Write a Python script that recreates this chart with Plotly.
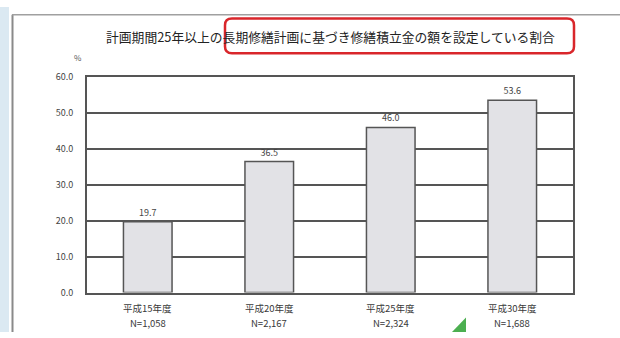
import plotly.graph_objects as go

# Survey results: share of condominiums setting reserve fund from long-term plan (25y+)
years = ["平成15年度", "平成20年度", "平成25年度", "平成30年度"]
sample_sizes = ["N=1,058", "N=2,167", "N=2,324", "N=1,688"]
shares = [19.7, 36.5, 46.0, 53.6]
y_ticks = [0, 10, 20, 30, 40, 50, 60]

W, H = 620, 338
FONT = "Noto Sans CJK JP"


def px_x(x):
    return x / W


def px_y(y):
    return 1 - y / H


fig = go.Figure(
    go.Bar(
        x=years,
        y=shares,
        width=0.4,
        marker=dict(color="#e2e2e6", line=dict(color="#555555", width=1.5)),
        text=[f"{v:.1f}" for v in shares],
        textposition="outside",
        textfont=dict(size=9, color="#444444", family=FONT),
        cliponaxis=False,
    )
)

fig.update_layout(
    width=W,
    height=H,
    margin=dict(l=0, r=0, t=0, b=0),
    paper_bgcolor="white",
    plot_bgcolor="white",
    showlegend=False,
    font=dict(family=FONT, color="#444444"),
    bargap=0.6,
)

fig.update_xaxes(
    domain=[px_x(87), px_x(573)],
    showticklabels=False,
    showline=True,
    linecolor="#555555",
    linewidth=2,
    mirror=True,
    ticks="",
)

fig.update_yaxes(
    domain=[px_y(297), px_y(73)],
    range=[0, 60],
    tickmode="array",
    tickvals=y_ticks,
    tickformat=".1f",
    tickfont=dict(size=9, color="#444444", family=FONT),
    showgrid=True,
    gridcolor="#555555",
    gridwidth=2,
    showline=True,
    linecolor="#555555",
    linewidth=2,
    mirror=True,
    zeroline=False,
    ticks="",
    ticklabelstandoff=10,
)

# two-line category labels: fiscal year and sample size
for yr, n in zip(years, sample_sizes):
    fig.add_annotation(
        text=yr, xref="x", yref="paper", x=yr, y=px_y(313),
        showarrow=False, xanchor="center", yanchor="middle", borderpad=0,
        font=dict(size=9.5, color="#3a3a3a", family=FONT),
    )
    fig.add_annotation(
        text=n, xref="x", yref="paper", x=yr, y=px_y(329),
        showarrow=False, xanchor="center", yanchor="middle", borderpad=0,
        font=dict(size=9.5, color="#3a3a3a", family=FONT),
    )

shapes = [
    # light blue strip along the left edge
    dict(type="rect", xref="paper", yref="paper", x0=0, x1=px_x(9), y0=0, y1=1,
         fillcolor="#dbe9f2", line=dict(width=0), layer="below"),
    # outer frame lines
    dict(type="line", xref="paper", yref="paper", x0=px_x(12.5), x1=px_x(12.5),
         y0=0, y1=px_y(8), line=dict(color="#8a8a8a", width=2)),
    dict(type="line", xref="paper", yref="paper", x0=px_x(12), x1=1,
         y0=px_y(8), y1=px_y(8), line=dict(color="#a0a0a0", width=1.5)),
    # red rounded highlight box around part of the title
    dict(type="path", xref="paper", yref="paper",
         path=(f"M {px_x(232)} {px_y(12)} L {px_x(567)} {px_y(12)} "
               f"Q {px_x(574)} {px_y(12)} {px_x(574)} {px_y(19)} "
               f"L {px_x(574)} {px_y(41)} Q {px_x(574)} {px_y(48)} {px_x(567)} {px_y(48)} "
               f"L {px_x(232)} {px_y(48)} Q {px_x(225)} {px_y(48)} {px_x(225)} {px_y(41)} "
               f"L {px_x(225)} {px_y(19)} Q {px_x(225)} {px_y(12)} {px_x(232)} {px_y(12)} Z"),
         line=dict(color="#d9262b", width=2.5), fillcolor="rgba(0,0,0,0)"),
    # small green marker at the bottom
    dict(type="path", xref="paper", yref="paper",
         path=(f"M {px_x(452)} {px_y(338)} L {px_x(466)} {px_y(323)} "
               f"L {px_x(466)} {px_y(338)} Z"),
         fillcolor="#4caf50", line=dict(width=0)),
]
fig.update_layout(shapes=shapes)

fig.add_annotation(
    text="計画期間25年以上の長期修繕計画に基づき修繕積立金の額を設定している割合",
    xref="paper", yref="paper", x=px_x(331), y=px_y(31),
    showarrow=False, xanchor="center", yanchor="middle",
    font=dict(size=12.8, color="#222222", family=FONT),
)
fig.add_annotation(
    text="%", xref="paper", yref="paper", x=px_x(78), y=px_y(53),
    showarrow=False, xanchor="center", yanchor="middle",
    font=dict(size=8, color="#555555", family=FONT),
)

fig.write_html("out.html")
